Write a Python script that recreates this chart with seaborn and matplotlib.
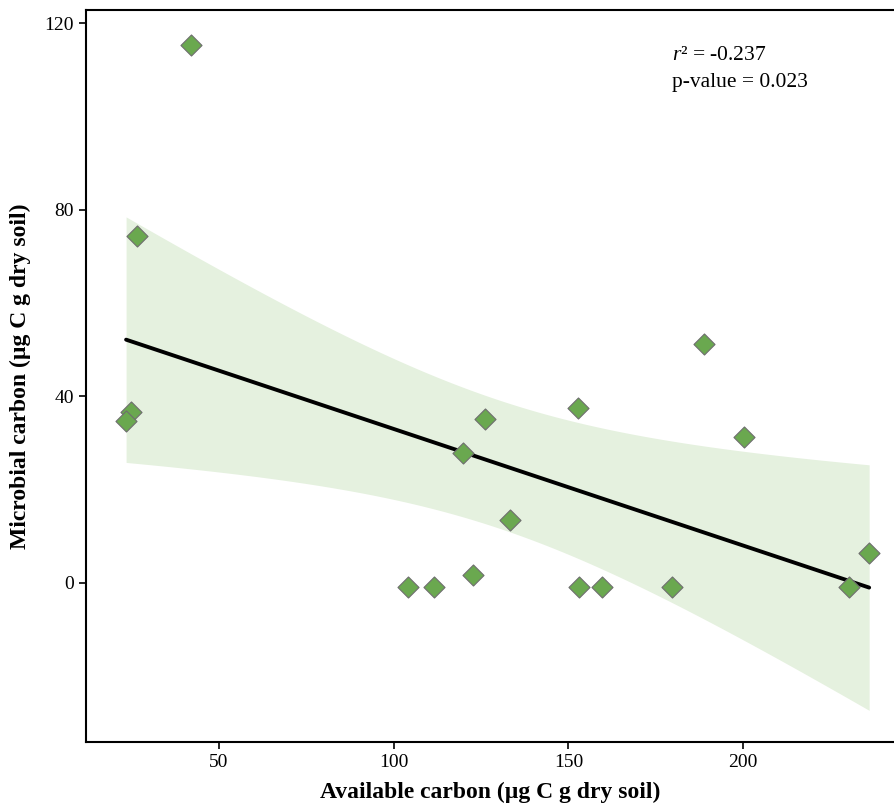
import numpy as np
import pandas as pd
import seaborn as sns
import matplotlib.pyplot as plt

# Values
available_carbon = [42.0, 26.5, 24.8, 23.4, 104.1, 111.6, 122.7, 119.9, 126.2,
                    133.3, 152.8, 153.1, 159.6, 179.7, 188.9, 200.3, 230.4, 236.1]
microbial_carbon = [115.3, 74.3, 36.6, 34.7, -0.9, -0.9, 1.7, 27.9, 35.1,
                    13.5, 37.5, -0.9, -0.9, -0.9, 51.2, 31.3, -0.9, 6.4]
x_ticks = [50, 100, 150, 200]
y_ticks = [0, 40, 80, 120]
r2_text = "-0.237"
p_text = "0.023"

df = pd.DataFrame({"available": available_carbon, "microbial": microbial_carbon})

sns.set_theme(style="white")
plt.rcParams["font.family"] = ["Liberation Serif", "DejaVu Serif"]
plt.rcParams["mathtext.fontset"] = "custom"
plt.rcParams["mathtext.it"] = "Liberation Serif:italic"
plt.rcParams["mathtext.rm"] = "Liberation Serif"

fig = plt.figure(figsize=(8.95, 8.10), dpi=100)
ax = fig.add_axes([0.096, 0.084, 0.904, 0.9037])

# 95% confidence band of the linear fit (t-based)
x = df["available"].to_numpy()
y = df["microbial"].to_numpy()
n = len(x)
slope, intercept = np.polyfit(x, y, 1)
resid = y - (slope * x + intercept)
s = np.sqrt(np.sum(resid ** 2) / (n - 2))
t_crit = 2.120  # t(0.975, df=16)
grid = np.linspace(x.min(), x.max(), 200)
half = t_crit * s * np.sqrt(1 / n + (grid - x.mean()) ** 2 / np.sum((x - x.mean()) ** 2))
fit = slope * grid + intercept
ax.fill_between(grid, fit - half, fit + half, color="#e5f1df", linewidth=0, zorder=1)

sns.regplot(ax=ax, data=df, x="available", y="microbial", ci=None,
            marker="D", color="#6aa84f",
            scatter_kws={"s": 115, "edgecolor": "#6e6e6e", "linewidths": 0.8,
                         "alpha": 1, "zorder": 3, "facecolor": "#6aa84f"},
            line_kws={"color": "black", "linewidth": 2.8, "zorder": 2})

ax.set_xlim(11.9, 243.5)
ax.set_ylim(-34.1, 122.8)
ax.set_xticks(x_ticks)
ax.set_yticks(y_ticks)
ax.tick_params(axis="both", labelsize=14, length=5, width=1.2, direction="out",
               bottom=True, left=True, color="black", labelcolor="black")
for sp in ax.spines.values():
    sp.set_color("black")
    sp.set_linewidth(1.5)
ax.spines["right"].set_visible(False)

ax.set_xlabel("Available carbon (µg C g dry soil)", fontsize=17, fontweight="bold",
              labelpad=8, color="black")
ax.set_ylabel("Microbial carbon (µg C g dry soil)", fontsize=17, fontweight="bold",
              labelpad=10, color="black")

ax.text(0.724, 0.9317, r"$r$²" + " = " + r2_text, transform=ax.transAxes,
        fontsize=15.5, va="baseline", ha="left", color="black")
ax.text(0.724, 0.8948, "p-value = " + p_text, transform=ax.transAxes,
        fontsize=15.5, va="baseline", ha="left", color="black")

fig.savefig("out.png", dpi=100)
